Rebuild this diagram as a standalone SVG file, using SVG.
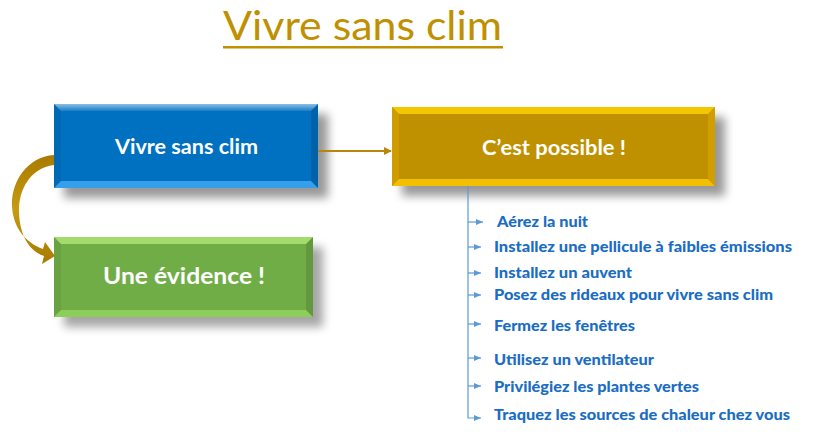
<svg xmlns="http://www.w3.org/2000/svg" width="819" height="437" viewBox="0 0 819 437">
<defs>
  <filter id="sh" x="-20%" y="-30%" width="150%" height="180%">
    <feGaussianBlur stdDeviation="5"/>
  </filter>
  <linearGradient id="gTop" x1="0" y1="0" x2="0" y2="1">
    <stop offset="0" stop-color="#fff" stop-opacity="0.55"/>
    <stop offset="1" stop-color="#fff" stop-opacity="0.1"/>
  </linearGradient>
  <linearGradient id="gArc" x1="0" y1="0" x2="0" y2="1">
    <stop offset="0" stop-color="#A87A00"/>
    <stop offset="0.5" stop-color="#C69A10"/>
    <stop offset="1" stop-color="#A87A00"/>
  </linearGradient>
  <marker id="ah" markerWidth="8" markerHeight="8" refX="7" refY="4" orient="auto" markerUnits="userSpaceOnUse">
    <path d="M0,0 L8,4 L0,8 Z" fill="#B8860B"/>
  </marker>
  <marker id="bh" markerWidth="7" markerHeight="6" refX="7" refY="3" orient="auto" markerUnits="userSpaceOnUse">
    <path d="M0,0 L7,3 L0,6 Z" fill="#5B9BD5"/>
  </marker>
</defs>
<style>
  .bt { font-family: Lato, "Open Sans", sans-serif; font-weight: bold; fill: #fff; text-anchor: middle; }
  .it { font-family: Lato, "Open Sans", sans-serif; font-weight: 900; fill: #1A6DC2; font-size: 15px; }
  .bl { stroke: #5B9BD5; stroke-width: 1.2; fill: none; }
  .edgeL { fill: #000; fill-opacity: 0.06; }
  .edgeR { fill: #000; fill-opacity: 0.12; }
</style>
<rect width="819" height="437" fill="#fff"/>

<g id="title">
  <text x="223" y="40" font-family="Lato, 'Open Sans', sans-serif" font-size="40" fill="#BF9000" textLength="279" lengthAdjust="spacingAndGlyphs">Vivre sans clim</text>
  <rect x="223" y="46" width="280" height="2.5" fill="#BF9000"/>
</g>

<g id="node-vivre">
  <rect x="64" y="114" width="264" height="84" fill="#000" opacity="0.4" filter="url(#sh)"/>
  <rect x="54" y="104" width="264" height="84" fill="#0070C0"/>
  <polygon points="54,104 318,104 311,111 61,111" fill="url(#gTop)"/>
  <polygon points="54,188 318,188 311,181 61,181" fill="#4DB3FF" opacity="0.7"/>
  <polygon points="54,104 61,111 61,181 54,188" class="edgeL"/>
  <polygon points="318,104 311,111 311,181 318,188" class="edgeR"/>
  <text class="bt" x="186.5" y="154" font-size="20" textLength="143" lengthAdjust="spacingAndGlyphs">Vivre sans clim</text>
</g>

<g id="node-evidence">
  <rect x="64" y="247" width="259" height="80" fill="#000" opacity="0.35" filter="url(#sh)"/>
  <rect x="54" y="237" width="259" height="80" fill="#70AD47"/>
  <polygon points="54,237 313,237 306,244 61,244" fill="#A8E070" opacity="0.9"/>
  <polygon points="54,317 313,317 306,310 61,310" fill="#95D45E" opacity="0.8"/>
  <polygon points="54,237 61,244 61,310 54,317" class="edgeL"/>
  <polygon points="313,237 306,244 306,310 313,317" class="edgeR"/>
  <text class="bt" x="184" y="284" font-size="23" textLength="162" lengthAdjust="spacingAndGlyphs">Une évidence !</text>
</g>

<g id="node-possible">
  <rect x="402" y="117" width="323" height="79" fill="#000" opacity="0.4" filter="url(#sh)"/>
  <rect x="392" y="107" width="323" height="79" fill="#BF9000"/>
  <polygon points="392,107 715,107 708,114 399,114" fill="#FFD400" opacity="0.8"/>
  <polygon points="392,186 715,186 708,179 399,179" fill="#FFCC00" opacity="0.8"/>
  <polygon points="392,107 399,114 399,179 392,186" fill="#E0A800" opacity="0.5"/>
  <polygon points="715,107 708,114 708,179 715,186" fill="#D9A400" opacity="0.7"/>
  <text class="bt" x="554" y="155" font-size="20" textLength="144" lengthAdjust="spacingAndGlyphs">C’est possible !</text>
</g>

<g id="connectors">
  <line x1="318" y1="151" x2="391" y2="151" stroke="#B8860B" stroke-width="2" marker-end="url(#ah)"/>
  <path d="M54,155 C26,157 11,183 12,206 C13,228 26,243 43,249 L45,242 L55,256 L42,264 L44,256 C26,250 19,230 19,210 C19,190 30,168 54,165 Z" fill="url(#gArc)"/>
  <path class="bl" d="M468,186 V418 H481" marker-end="url(#bh)"/>
  <line class="bl" x1="468" y1="222" x2="483" y2="222" marker-end="url(#bh)"/>
  <line class="bl" x1="468" y1="247" x2="481" y2="247" marker-end="url(#bh)"/>
  <line class="bl" x1="468" y1="273" x2="481" y2="273" marker-end="url(#bh)"/>
  <line class="bl" x1="468" y1="295" x2="481" y2="295" marker-end="url(#bh)"/>
  <line class="bl" x1="468" y1="324" x2="481" y2="324" marker-end="url(#bh)"/>
  <line class="bl" x1="468" y1="358" x2="481" y2="358" marker-end="url(#bh)"/>
  <line class="bl" x1="468" y1="386" x2="481" y2="386" marker-end="url(#bh)"/>
</g>

<g id="items">
  <text class="it" x="497" y="227" textLength="91" lengthAdjust="spacingAndGlyphs">Aérez la nuit</text>
  <text class="it" x="494" y="252" textLength="298" lengthAdjust="spacingAndGlyphs">Installez une pellicule à faibles émissions</text>
  <text class="it" x="494" y="278" textLength="138" lengthAdjust="spacingAndGlyphs">Installez un auvent</text>
  <text class="it" x="494" y="300" textLength="279" lengthAdjust="spacingAndGlyphs">Posez des rideaux pour vivre sans clim</text>
  <text class="it" x="494" y="331" textLength="141" lengthAdjust="spacingAndGlyphs">Fermez les fenêtres</text>
  <text class="it" x="494" y="365" textLength="160" lengthAdjust="spacingAndGlyphs">Utilisez un ventilateur</text>
  <text class="it" x="494" y="392" textLength="205" lengthAdjust="spacingAndGlyphs">Privilégiez les plantes vertes</text>
  <text class="it" x="494" y="420" textLength="296" lengthAdjust="spacingAndGlyphs">Traquez les sources de chaleur chez vous</text>
</g>
</svg>
